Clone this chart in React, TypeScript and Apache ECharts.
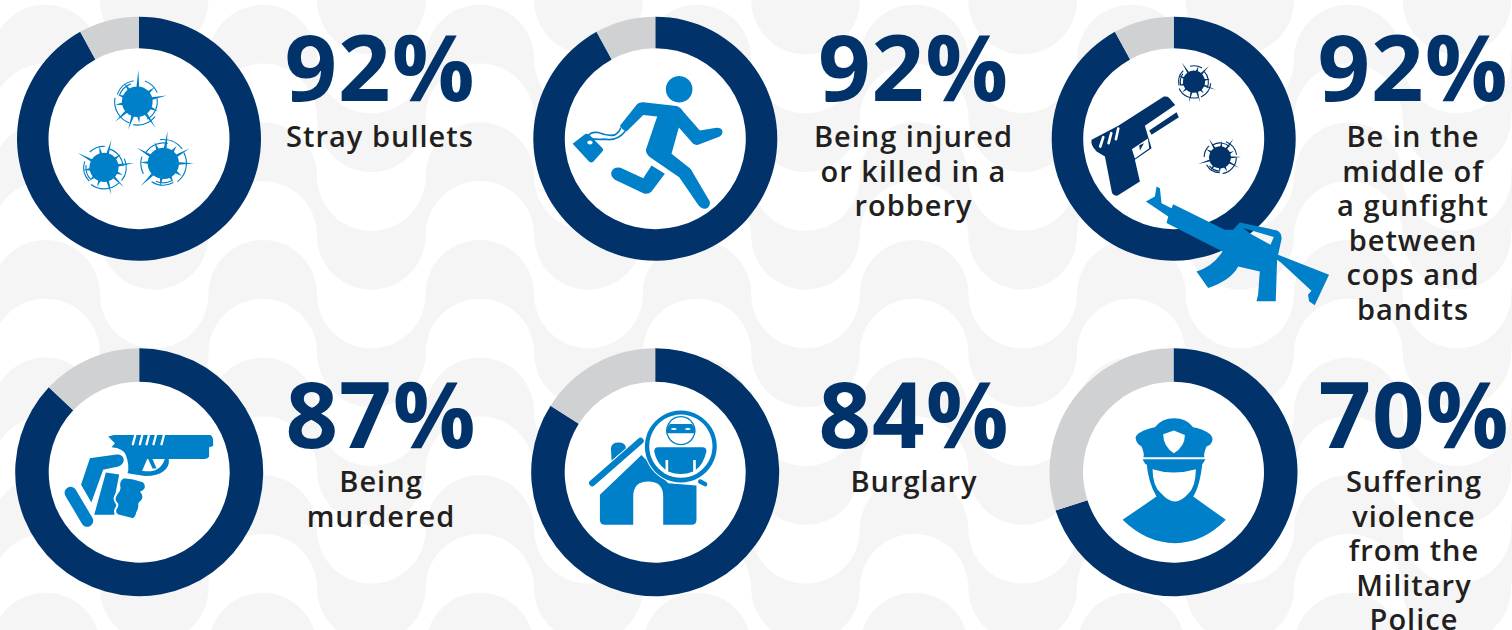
import React, { useEffect, useRef } from "react";
import * as echarts from "echarts";

// Survey results: share of respondents afraid of each risk
const shares = [92, 92, 92, 87, 84, 70];
const captions = [
  ["Stray bullets"],
  ["Being injured", "or killed in a", "robbery"],
  ["Be in the", "middle of", "a gunfight", "between", "cops and", "bandits"],
  ["Being", "murdered"],
  ["Burglary"],
  ["Suffering", "violence", "from the", "Military", "Police"],
];

const NAVY = "#01336A";
const GREY = "#CFD1D3";
const BLUE = "#0080C8";
const INK = "#231F20";
const WAVE = "#F5F5F5";
const WHITE = "#FFFFFF";
const FONT = '"Open Sans", "Noto Sans", sans-serif';

// Ring geometry per cell, top row then bottom row
const ringX = [139, 655.3, 1173.7, 139.2, 655.2, 1173.5];
const ringY = [138.7, 138.7, 138.7, 472.2, 472.2, 472.2];
const ringOuter = [122, 122, 122, 124, 124, 124];
const ringInner = 90.5;
const textX = [380, 913.5, 1413, 381, 914, 1414];
const bigBaseline = [100.7, 100.7, 100.7, 448, 448, 448];
const capBaseline = [146.7, 146.7, 146.7, 491.7, 491.7, 491.7];
const capStep = 34.6;
const BIG_SIZE = 92;
const CAP_SIZE = 29;
const CENTRAL = 0.388;

// Icons are authored on a 3x grid and placed with this scale
const S = 1 / 3;

// Scalloped backdrop: stacked waves of alternating semicircles
function waveBands(): string {
  const r = 54.28;
  const x0 = 45.6 - r - 217.1;
  const centres = (k: number) => 59 + 58.8 * k;
  const arcs = 18;
  let d = "";
  for (let k = -2; k <= 10; k += 2) {
    const top = centres(k);
    const bottom = centres(k + 1);
    d += `M${x0} ${top}`;
    for (let i = 0; i < arcs; i++) {
      d += `A${r} ${r} 0 0 ${i % 2 === 0 ? 1 : 0} ${x0 + (i + 1) * 2 * r} ${top}`;
    }
    const xEnd = x0 + arcs * 2 * r;
    d += `L${xEnd} ${bottom}`;
    for (let i = arcs; i > 0; i--) {
      d += `A${r} ${r} 0 0 ${i % 2 === 1 ? 0 : 1} ${x0 + (i - 1) * 2 * r} ${bottom}`;
    }
    d += "Z";
  }
  return d;
}

// Bullet hole: dark core with thin spikes, ringed by fine fracture arcs
const holeRays = [
  [-88, 95], [-40, 68], [-12, 90], [25, 68], [55, 96], [85, 64],
  [108, 88], [138, 90], [172, 66], [-160, 62], [-125, 68],
];
const holeArcs = [
  [-160, -100, 64], [-70, -25, 66], [-10, 60, 60],
  [40, 100, 70], [110, 190, 68], [200, 250, 57],
];
const polar = (deg: number, r: number) => {
  const a = (deg * Math.PI) / 180;
  return `${(r * Math.cos(a)).toFixed(1)} ${(r * Math.sin(a)).toFixed(1)}`;
};
function holeCore(): string {
  let d = `M-46 0A46 46 0 1 1 46 0A46 46 0 1 1 -46 0Z`;
  for (const [a, len] of holeRays) {
    d += `M${polar(a - 5.5, 44)}L${polar(a, len)}L${polar(a + 5.5, 44)}Z`;
  }
  return d;
}
function holeCracks(): string {
  let d = "";
  for (const [a, b, r] of holeArcs) {
    d += `M${polar(a, r)}A${r} ${r} 0 0 1 ${polar(b, r)}`;
  }
  return d;
}

const RUNNER_BODY =
  "M448 228A40 40 0 1 1 447.9 228ZM270 378L322 312Q330 306 340 307L440 318Q452 321 460 335L510 392L560 384Q578 384 578 396Q578 406 568 411L505 435Q495 436 490 432L447 383L425 462L480 505Q486 510 490 520L540 605Q542 622 528 627Q515 629 505 615L448 532L365 475Q348 466 348 450L382 350L340 345L290 395Q278 392 270 378Z" +
  "M365 497L405 522L365 575Q355 585 342 581L255 540Q242 530 244 518Q250 500 272 504L340 535Z";
const RUNNER_BAG = "M128 432L163 405Q170 398 178 405L218 445Q222 450 218 454L190 486Q184 490 178 486Z";
const RUNNER_STRAP = "M172 412Q180 395 205 398Q235 410 255 405Q270 395 272 385M178 440Q165 425 180 415Q200 420 222 418Q262 425 285 395";
const RUNNER_CLASP = "M172 428A8 6 0 1 1 188 428A8 6 0 1 1 172 428Z";

const PISTOL =
  "M155 420L235 378L372 290Q382 288 388 294L406 315L315 378L335 445L285 480L300 545L232 588Q220 588 216 578L195 470L170 455Q150 435 155 420Z" +
  "M328 392L410 337L417 352L335 405Z";
const PISTOL_GUARD = "M276 448L324 416L328 445L285 476Z";
const PISTOL_TRIGGER = "M298 436L312 430L300 452Z";
const PISTOL_SLITS = "M181 440L190 412M206 430L214 400M228 418L235 386";

const RIFLE =
  "M318 605L345 590L350 560L360 565L365 610L395 625L400 613L555 690L580 690L600 668L712 692Q728 700 725 720L715 765L868 825L825 917L808 905L805 885L815 873L725 790L712 780L708 905L650 905L655 885L660 815L595 800Q575 840 505 865L470 815Q520 800 548 755L380 670L385 650Z" +
  "M610 685L632 702L692 735L702 712Z";

const GUN_BODY =
  "M325 290L342 285L632 285Q640 290 640 300L640 318L628 322L628 350Q625 357 615 357L507 357Q510 380 490 395Q470 410 430 408L383 400Q390 380 378 345Q370 325 335 322L345 310Z";
const GUN_GUARD = "M427 393Q480 402 495 357L442 357Z";
const GUN_TRIGGER = "M445 357L458 386L470 386L458 357Z";
const GUN_THUMB = "M268 352L355 340Q378 345 374 366Q367 383 345 385L312 392L275 495L240 435Z";
const GUN_PALM = "M318 398L358 404L345 470L352 490L343 525L283 525Z";
const GUN_FINGERS =
  "M372 412Q400 414 430 424Q442 434 436 448Q430 455 425 457Q436 470 426 484Q418 490 418 492Q420 505 412 518Q410 534 400 538L355 527Q342 520 347 508Q356 495 350 490Q338 478 350 462Q362 450 358 438Q356 420 372 412Z";
const GUN_SLITS = "M406 287L399 313M427 287L420 313M447 287L440 313M468 287L461 313M492 287L485 313";
const GUN_CUFF = "M212 459L262 543";

const HOUSE =
  "M240 465L365 345L445 430L530 437L530 540Q530 555 515 555L430 555L430 470Q430 425 385 425Q340 425 340 470L340 555L255 555Q240 555 240 540Z" +
  "M273 325Q275 308 295 308Q318 308 318 325L275 362Z";
const HOUSE_ROOF = "M217 430L362 303";
const LENS_RING = "M483 212A108 108 0 1 1 482.9 212ZM483 224A95 95 0 1 0 483.1 224Z";
const BURGLAR_BODY =
  "M415 322L548 322Q560 322 560 335Q550 375 528 390L528 360L520 360L520 395Q483 410 445 395L445 360L437 360L437 390Q410 370 403 335Q403 322 415 322Z";
const BURGLAR_HEAD = "M483 230A42 42 0 1 1 482.9 230Z";
const BURGLAR_MASK = "M441 268Q444 258 450 252L516 252Q522 258 525 268L525 280L441 280Z";
const BURGLAR_EYES = "M452 267Q462 261 472 267Q462 273 452 267ZM494 267Q504 261 514 267Q504 273 494 267Z";
const LENS_HANDLE = "M541 425L556 433";

const OFFICER =
  "M403 235Q440 235 460 262Q520 275 518 300Q515 315 500 320Q490 345 494 352L310 352Q315 345 305 320Q290 312 287 295Q288 275 345 262Q365 235 403 235Z" +
  "M308 358L497 358L488 372Q400 410 316 372Z" +
  "M320 368Q400 410 488 368Q480 440 460 470L558 540Q490 610 405 610Q320 610 248 540L350 470Q325 430 320 368Z";
const OFFICER_BADGE = "M402 272L435 285Q435 320 402 340Q370 320 370 283Z";
const OFFICER_FACE = "M338 388Q400 408 468 388Q468 440 445 462Q425 485 405 485Q385 485 365 462Q338 440 338 388Z";

const shapes: Record<string, string> = {
  waves: waveBands(),
  holeCore: holeCore(),
  holeCracks: holeCracks(),
  runnerBody: RUNNER_BODY,
  runnerBag: RUNNER_BAG,
  runnerStrap: RUNNER_STRAP,
  runnerClasp: RUNNER_CLASP,
  pistol: PISTOL,
  pistolGuard: PISTOL_GUARD,
  pistolTrigger: PISTOL_TRIGGER,
  pistolSlits: PISTOL_SLITS,
  rifle: RIFLE,
  gunBody: GUN_BODY,
  gunGuard: GUN_GUARD,
  gunTrigger: GUN_TRIGGER,
  gunThumb: GUN_THUMB,
  gunPalm: GUN_PALM,
  gunFingers: GUN_FINGERS,
  gunSlits: GUN_SLITS,
  gunCuff: GUN_CUFF,
  house: HOUSE,
  houseRoof: HOUSE_ROOF,
  lensRing: LENS_RING,
  burglarBody: BURGLAR_BODY,
  burglarHead: BURGLAR_HEAD,
  burglarMask: BURGLAR_MASK,
  burglarEyes: BURGLAR_EYES,
  lensHandle: LENS_HANDLE,
  officer: OFFICER,
  officerBadge: OFFICER_BADGE,
  officerFace: OFFICER_FACE,
};
for (const [name, d] of Object.entries(shapes)) {
  echarts.graphic.registerShape(name, echarts.graphic.extendPath(d, {}));
}

const ICON_Z = 6;
const fillPart = (type: string, ox: number, oy: number, fill: string) => ({
  type, x: ox, y: oy, scaleX: S, scaleY: S, z: ICON_Z, silent: true, style: { fill },
});
const linePart = (type: string, ox: number, oy: number, stroke: string, lineWidth: number) => ({
  type, x: ox, y: oy, scaleX: S, scaleY: S, z: ICON_Z, silent: true,
  style: { fill: "none", stroke, lineWidth, lineCap: "round" },
});
const outlinedPart = (type: string, ox: number, oy: number, fill: string) => ({
  type, x: ox, y: oy, scaleX: S, scaleY: S, z: ICON_Z, silent: true,
  style: { fill, stroke: WHITE, lineWidth: 6 },
});
const hole = (cx: number, cy: number, k: number, rot: number, color: string) => {
  const common = { x: cx, y: cy, scaleX: S * k, scaleY: S * k, rotation: rot, z: ICON_Z, silent: true };
  return [
    { type: "holeCore", ...common, style: { fill: color } },
    { type: "holeCracks", ...common, style: { fill: "none", stroke: color, lineWidth: 3.4 / k } },
  ];
};

function iconElements(): any[] {
  return [
    // three bullet holes
    ...hole(137.3, 101.7, 1, 0, BLUE),
    ...hole(104, 167.3, 0.95, 1.1, BLUE),
    ...hole(163.3, 163.3, 1.02, 2.4, BLUE),
    // fleeing figure with bag
    fillPart("runnerBody", 530, 0, BLUE),
    fillPart("runnerBag", 530, 0, BLUE),
    linePart("runnerStrap", 530, 0, BLUE, 5),
    fillPart("runnerClasp", 530, 0, WHITE),
    // pistol, two holes and the rifle across the ring
    fillPart("pistol", 1040, 0, NAVY),
    fillPart("pistolGuard", 1040, 0, WHITE),
    fillPart("pistolTrigger", 1040, 0, NAVY),
    linePart("pistolSlits", 1040, 0, WHITE, 8),
    ...hole(1040 + 462 / 3, 245 / 3, 0.72, 0.6, NAVY),
    ...hole(1040 + 540 / 3, 472 / 3, 0.72, 1.9, NAVY),
    fillPart("rifle", 1040, 0, BLUE),
    // hand holding a handgun
    fillPart("gunBody", 0, 340, BLUE),
    fillPart("gunGuard", 0, 340, WHITE),
    fillPart("gunTrigger", 0, 340, BLUE),
    linePart("gunSlits", 0, 340, WHITE, 7),
    outlinedPart("gunThumb", 0, 340, BLUE),
    fillPart("gunPalm", 0, 340, BLUE),
    outlinedPart("gunFingers", 0, 340, BLUE),
    linePart("gunCuff", 0, 340, BLUE, 36),
    // house under a magnifier
    fillPart("house", 520, 340, BLUE),
    linePart("houseRoof", 520, 340, BLUE, 19),
    { type: "circle", shape: { cx: 520 + 483 / 3, cy: 340 + 320 / 3, r: 37 }, z: ICON_Z, silent: true, style: { fill: WHITE } },
    fillPart("lensRing", 520, 340, BLUE),
    fillPart("burglarBody", 520, 340, BLUE),
    linePart("burglarHead", 520, 340, BLUE, 4),
    fillPart("burglarMask", 520, 340, BLUE),
    fillPart("burglarEyes", 520, 340, WHITE),
    linePart("lensHandle", 520, 340, BLUE, 13),
    // police officer
    fillPart("officer", 1040, 340, BLUE),
    fillPart("officerBadge", 1040, 340, WHITE),
    fillPart("officerFace", 1040, 340, WHITE),
  ];
}

function textElements(): any[] {
  const out: any[] = [];
  shares.forEach((share, i) => {
    out.push({
      type: "text", z: 7, silent: true,
      style: {
        x: textX[i],
        y: bigBaseline[i] - CENTRAL * BIG_SIZE,
        text: `${share}%`,
        fill: NAVY,
        fontFamily: FONT,
        fontWeight: 700,
        fontSize: BIG_SIZE,
        textAlign: "center",
        textVerticalAlign: "middle",
      },
    });
    out.push({
      type: "text", z: 7, silent: true,
      style: {
        x: textX[i],
        y: capBaseline[i] - CENTRAL * CAP_SIZE - capStep / 2,
        text: captions[i].join("\n"),
        lineHeight: capStep,
        fill: INK,
        fontFamily: FONT,
        fontWeight: 600,
        fontSize: CAP_SIZE,
        textAlign: "center",
        textVerticalAlign: "top",
      },
    });
  });
  return out;
}

export default function App() {
  const host = useRef<HTMLDivElement>(null);

  useEffect(() => {
    document.body.style.margin = "0";
    const chart = echarts.init(host.current!, null, { renderer: "svg" });
    chart.setOption({
      animation: false,
      backgroundColor: WHITE,
      graphic: {
        elements: [
          { type: "waves", z: 0, silent: true, style: { fill: WAVE } },
          ...shares.map((_, i) => ({
            type: "circle", z: 1, silent: true,
            shape: { cx: ringX[i], cy: ringY[i], r: ringInner + 1 },
            style: { fill: WHITE },
          })),
          ...iconElements(),
          ...textElements(),
        ],
      },
      series: shares.map((share, i) => ({
        type: "pie",
        z: 2,
        silent: true,
        center: [ringX[i], ringY[i]],
        radius: [ringInner, ringOuter[i]],
        startAngle: 90,
        clockwise: true,
        label: { show: false },
        labelLine: { show: false },
        emphasis: { disabled: true },
        data: [
          { value: share, itemStyle: { color: NAVY } },
          { value: 100 - share, itemStyle: { color: GREY } },
        ],
      })),
    });
    return () => chart.dispose();
  }, []);

  return (
    <div
      ref={host}
      style={{ position: "fixed", left: 0, top: 0, width: 1512, height: 630, letterSpacing: "1px" }}
    />
  );
}
